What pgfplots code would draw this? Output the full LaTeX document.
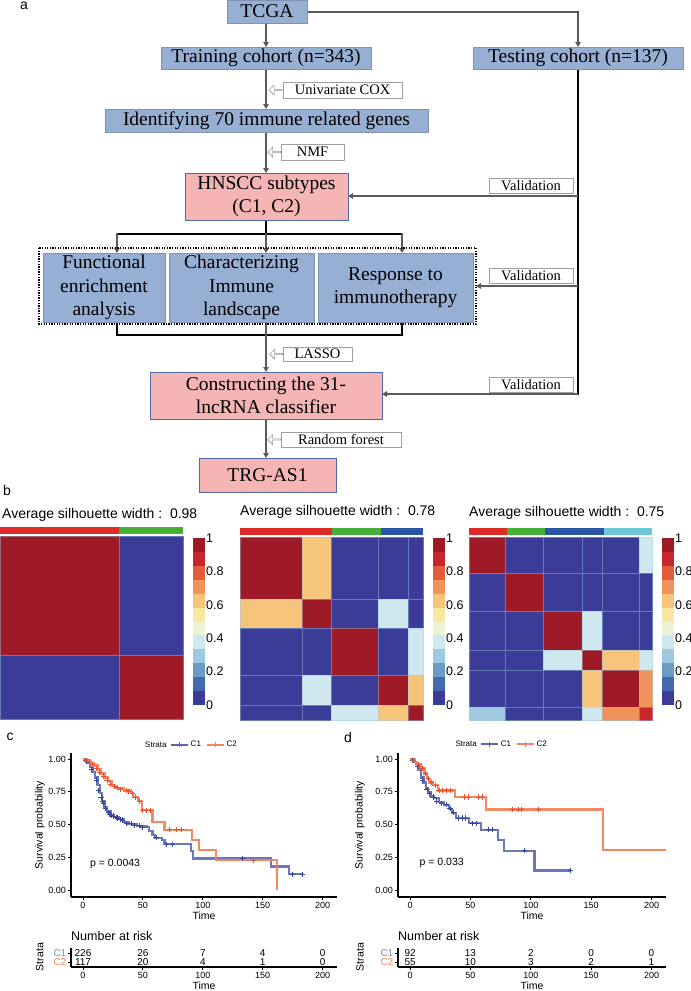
\documentclass[border=0pt]{standalone}
\usepackage{pgfplots}
\pgfplotsset{compat=1.18}
\usepackage{fontspec}
\setmainfont{Liberation Sans}
\newfontfamily\tnr{Liberation Serif}
\usetikzlibrary{arrows.meta,shapes.arrows}

\definecolor{hm1}{HTML}{3A3C97}
\definecolor{hm2}{HTML}{4569AE}
\definecolor{hm3}{HTML}{6A9CC8}
\definecolor{hm4}{HTML}{9EC9E0}
\definecolor{hm5}{HTML}{CFE8F0}
\definecolor{hm6}{HTML}{EEF3D8}
\definecolor{hm7}{HTML}{F7E7A0}
\definecolor{hm8}{HTML}{F6C47B}
\definecolor{hm9}{HTML}{F0935A}
\definecolor{hm10}{HTML}{E35B3A}
\definecolor{hm11}{HTML}{C8262B}
\definecolor{hm12}{HTML}{9E1A27}
\definecolor{annR}{HTML}{E02A26}
\definecolor{annG}{HTML}{45B035}
\definecolor{annB}{HTML}{2955A5}
\definecolor{annC}{HTML}{6CC7D6}
\definecolor{c1line}{HTML}{5B68B0}
\definecolor{c1dark}{HTML}{34479B}
\definecolor{c2line}{HTML}{F2835A}
\definecolor{c2dark}{HTML}{E5502F}
\definecolor{c1lab}{HTML}{8585CC}
\definecolor{c2lab}{HTML}{F0845A}
\definecolor{boxblue}{HTML}{97AFD2}
\definecolor{boxedge}{HTML}{7F92B5}
\definecolor{pinkf}{HTML}{F4B5B4}
\definecolor{pinkedge}{HTML}{5068B0}
\definecolor{agray}{HTML}{5A5A5A}

\newcommand{\blk}[5]{\addplot[fill=#5, draw=#5!55!hm4, line width=0.5pt] coordinates {(#1,#2) (#3,#2) (#3,#4) (#1,#4)} -- cycle;}
\newcommand{\ann}[3]{\addplot[fill=#3, draw=none] coordinates {(#1,-0.049) (#2,-0.049) (#2,-0.011) (#1,-0.011)} -- cycle;}
\newcommand{\cb}[3]{\addplot[fill=#3, draw=none] coordinates {(0,#1) (1,#1) (1,#2) (0,#2)} -- cycle;}

\pgfplotsset{
  hm/.style={scale only axis, width=183pt, height=183pt, xmin=0, xmax=1, ymin=0, ymax=1, y dir=reverse, hide axis, clip=false},
  cbar/.style={scale only axis, width=12pt, height=167pt, xmin=0, xmax=1, ymin=0, ymax=1, hide x axis, axis y line*=right, y axis line style={draw=none}, ytick={0,0.2,0.4,0.6,0.8,1}, yticklabels={0,0.2,0.4,0.6,0.8,1}, major tick length=0pt, yticklabel style={font=\fontsize{12.5}{14}\selectfont, anchor=west, inner sep=1pt}, clip=false},
  km/.style={scale only axis, height=144pt, xmin=-10, xmax=212, ymin=-0.053, ymax=1.046, clip mode=individual, axis lines=left, axis line style={-, line width=1.1pt}, xtick={0,50,100,150,200}, xticklabels={0,50,100,150,200}, ytick={0,0.25,0.5,0.75,1}, yticklabels={0.00,0.25,0.50,0.75,1.00}, tick align=outside, major tick length=3pt, tick style={black, line width=0.8pt}, tick label style={font=\fontsize{9}{10}\selectfont, inner sep=2pt}, /pgf/number format/assume math mode=true, xlabel={Time}, ylabel={Survival probability}, label style={font=\fontsize{10.5}{12}\selectfont}, xlabel style={at={(axis description cs:0.5,-0.13)}, anchor=center}, legend columns=-1, legend style={draw=none, fill=none, inner sep=0pt, font=\fontsize{8}{9}\selectfont, /tikz/every even column/.append style={column sep=3pt}}},
  risk/.style={scale only axis, height=19pt, xmin=-10, xmax=212, ymin=0.444, ymax=2.556, axis lines=left, axis line style={-, line width=1.1pt}, xtick={0,50,100,150,200}, xticklabels={0,50,100,150,200}, ytick={1,2}, yticklabels={\textcolor{c2lab}{C2},\textcolor{c1lab}{C1}}, tick align=outside, major tick length=3pt, tick style={black, line width=0.8pt}, xticklabel style={font=\fontsize{9}{10}\selectfont, inner sep=2pt}, yticklabel style={font=\fontsize{10}{10}\selectfont, inner sep=1.5pt}, xlabel={Time}, ylabel={Strata}, label style={font=\fontsize{10.5}{12}\selectfont}, xlabel style={at={(axis description cs:0.5,-1.0)}, anchor=center}, clip=false}
}

\tikzset{
  fbox/.style={draw=boxedge, fill=boxblue, line width=0.8pt, inner sep=0pt, align=center, font=\tnr\fontsize{19.5}{23.5}\selectfont},
  pbox/.style={draw=pinkedge, fill=pinkf, line width=0.8pt, inner sep=0pt, align=center, font=\tnr\fontsize{19.5}{23.5}\selectfont},
  lbox/.style={draw=gray!75, fill=white, line width=0.8pt, inner sep=0pt, font=\tnr\fontsize{14.5}{16}\selectfont},
  garr/.style={draw=agray, line width=1.3pt, -{Triangle[length=5pt,width=5.5pt]}},
  blkl/.style={draw=black, line width=1.6pt},
  harr/.style={single arrow, draw=gray!80, fill=white, line width=0.6pt, minimum height=13pt, minimum width=10pt, single arrow head extend=2pt, shape border rotate=180, inner sep=0pt}
}

\begin{document}
\begin{tikzpicture}
\path[use as bounding box] (0pt,0pt) rectangle (691pt,-991pt);
\begin{scope}[x=1pt,y=-1pt]
% ---------- panel a ----------
\node[font=\fontsize{14}{14}\selectfont] at (24,6) {a};
\draw[garr] (266,23) -- (266,47);
\draw[garr] (307,12) -- (578,12) -- (578,47);
\draw[blkl] (578,69) -- (578,394.8);
\draw[garr] (578,196) -- (348,196);
\draw[garr] (578,286) -- (476,286);
\draw[garr] (578,394) -- (382,394);
\draw[garr] (266,69) -- (266,109);
\draw[garr] (266,132) -- (266,173);
\draw[blkl] (266,220) -- (266,234);
\draw[blkl] (117,234) -- (402,234);
\draw[garr] (117,233) -- (117,253);
\draw[garr] (266,233) -- (266,253);
\draw[garr] (402,233) -- (402,253);
\draw[blkl] (117,322) -- (117,335) -- (402,335) -- (402,322);
\draw[garr] (266,322) -- (266,372);
\draw[garr] (266,419) -- (266,458);
\node[fbox, minimum width=80pt, minimum height=23pt] at (267,11.5) {TCGA};
\node[fbox, minimum width=210pt, minimum height=22pt] at (266,58) {Training cohort (n=343)};
\node[fbox, minimum width=210pt, minimum height=22pt] at (578,58) {Testing cohort (n=137)};
\node[fbox, minimum width=323pt, minimum height=23pt] at (266.5,120.5) {Identifying 70 immune related genes};
\node[pbox, minimum width=163pt, minimum height=47pt] at (266.5,196.5) {HNSCC subtypes\\(C1, C2)};
\draw[black, line width=1.5pt, dash pattern=on 1.3pt off 1.3pt] (39,248) rectangle (476,324);
\node[fbox, minimum width=122pt, minimum height=69pt] at (104,287.5) {Functional\\enrichment\\analysis};
\node[fbox, minimum width=145pt, minimum height=69pt] at (241.5,287.5) {Characterizing\\Immune\\landscape};
\node[fbox, minimum width=155pt, minimum height=69pt] at (395.5,287.5) {Response to\\immunotherapy};
\node[pbox, minimum width=232pt, minimum height=47pt] at (266,395.5) {Constructing the 31-\\lncRNA classifier};
\node[pbox, minimum width=137pt, minimum height=34pt] at (267.5,475) {TRG-AS1};
\node[lbox, minimum width=119pt, minimum height=16pt] at (342.5,90) {Univariate COX};
\node[harr] at (276,90) {};
\node[lbox, minimum width=63pt, minimum height=16pt] at (312.5,152) {NMF};
\node[harr] at (274.5,152) {};
\node[lbox, minimum width=69pt, minimum height=14pt] at (317.5,354) {LASSO};
\node[harr] at (276.5,354) {};
\node[lbox, minimum width=120pt, minimum height=15pt] at (341,439.5) {Random forest};
\node[harr] at (274.5,439.5) {};
\node[lbox, minimum width=84pt, minimum height=15pt] at (531,185.5) {Validation};
\node[lbox, minimum width=84pt, minimum height=15pt] at (531,276) {Validation};
\node[lbox, minimum width=84pt, minimum height=15pt] at (531,384.5) {Validation};
% ---------- panel labels & titles ----------
\node[font=\fontsize{14}{14}\selectfont] at (7,490) {b};
\node[font=\fontsize{14}{14}\selectfont] at (10,737) {c};
\node[font=\fontsize{14}{14}\selectfont] at (348,737) {d};
\node[anchor=west, inner sep=0pt, font=\fontsize{14}{16}\selectfont] at (2,515) {Average silhouette width :\ \ 0.98};
\node[anchor=west, inner sep=0pt, font=\fontsize{14}{16}\selectfont] at (240,512) {Average silhouette width :\ \ 0.78};
\node[anchor=west, inner sep=0pt, font=\fontsize{14}{16}\selectfont] at (469,513) {Average silhouette width :\ \ 0.75};
\end{scope}

% ---------- heatmap 1 ----------
\begin{axis}[hm, at={(0pt,-536pt)}, anchor=north west]
\ann{0}{0.652}{annR}
\ann{0.652}{1}{annG}
\blk{0}{0}{0.652}{0.652}{hm12}
\blk{0.652}{0}{1}{0.652}{hm1}
\blk{0}{0.652}{0.652}{1}{hm1}
\blk{0.652}{0.652}{1}{1}{hm12}
\end{axis}
% ---------- heatmap 2 ----------
\begin{axis}[hm, at={(240pt,-537pt)}, anchor=north west]
\ann{0}{0.503}{annR}
\ann{0.503}{0.77}{annG}
\ann{0.77}{1}{annB}
\blk{0}{0}{.338}{.338}{hm12}
\blk{.338}{0}{.496}{.338}{hm8}
\blk{.496}{0}{.757}{.338}{hm1}
\blk{.757}{0}{.921}{.338}{hm1}
\blk{.921}{0}{1}{.338}{hm1}
\blk{0}{.338}{.338}{.496}{hm8}
\blk{.338}{.338}{.496}{.496}{hm12}
\blk{.496}{.338}{.757}{.496}{hm1}
\blk{.757}{.338}{.921}{.496}{hm5}
\blk{.921}{.338}{1}{.496}{hm1}
\blk{0}{.496}{.338}{.757}{hm1}
\blk{.338}{.496}{.496}{.757}{hm1}
\blk{.496}{.496}{.757}{.757}{hm12}
\blk{.757}{.496}{.921}{.757}{hm1}
\blk{.921}{.496}{1}{.757}{hm5}
\blk{0}{.757}{.338}{.921}{hm1}
\blk{.338}{.757}{.496}{.921}{hm5}
\blk{.496}{.757}{.757}{.921}{hm1}
\blk{.757}{.757}{.921}{.921}{hm12}
\blk{.921}{.757}{1}{.921}{hm8}
\blk{0}{.921}{.338}{1}{hm1}
\blk{.338}{.921}{.496}{1}{hm1}
\blk{.496}{.921}{.757}{1}{hm5}
\blk{.757}{.921}{.921}{1}{hm8}
\blk{.921}{.921}{1}{1}{hm12}
\end{axis}
% ---------- heatmap 3 ----------
\begin{axis}[hm, at={(469pt,-537pt)}, anchor=north west]
\ann{0}{0.209}{annR}
\ann{0.209}{0.418}{annG}
\ann{0.418}{0.736}{annB}
\ann{0.736}{1}{annC}
\blk{0}{0}{.196}{.196}{hm12}
\blk{.196}{0}{.407}{.196}{hm1}
\blk{.407}{0}{.618}{.196}{hm1}
\blk{.618}{0}{.728}{.196}{hm1}
\blk{.728}{0}{.930}{.196}{hm1}
\blk{.930}{0}{1}{.196}{hm5}
\blk{0}{.196}{.196}{.407}{hm1}
\blk{.196}{.196}{.407}{.407}{hm12}
\blk{.407}{.196}{.618}{.407}{hm1}
\blk{.618}{.196}{.728}{.407}{hm1}
\blk{.728}{.196}{.930}{.407}{hm1}
\blk{.930}{.196}{1}{.407}{hm1}
\blk{0}{.407}{.196}{.618}{hm1}
\blk{.196}{.407}{.407}{.618}{hm1}
\blk{.407}{.407}{.618}{.618}{hm12}
\blk{.618}{.407}{.728}{.618}{hm5}
\blk{.728}{.407}{.930}{.618}{hm1}
\blk{.930}{.407}{1}{.618}{hm1}
\blk{0}{.618}{.196}{.728}{hm1}
\blk{.196}{.618}{.407}{.728}{hm1}
\blk{.407}{.618}{.618}{.728}{hm5}
\blk{.618}{.618}{.728}{.728}{hm12}
\blk{.728}{.618}{.930}{.728}{hm8}
\blk{.930}{.618}{1}{.728}{hm5}
\blk{0}{.728}{.196}{.930}{hm1}
\blk{.196}{.728}{.407}{.930}{hm1}
\blk{.407}{.728}{.618}{.930}{hm1}
\blk{.618}{.728}{.728}{.930}{hm8}
\blk{.728}{.728}{.930}{.930}{hm12}
\blk{.930}{.728}{1}{.930}{hm9}
\blk{0}{.930}{.196}{1}{hm4}
\blk{.196}{.930}{.407}{1}{hm1}
\blk{.407}{.930}{.618}{1}{hm1}
\blk{.618}{.930}{.728}{1}{hm5}
\blk{.728}{.930}{.930}{1}{hm9}
\blk{.930}{.930}{1}{1}{hm11}
\end{axis}
% ---------- colorbars ----------
\foreach \cx in {193,433,662}{
\begin{axis}[cbar, at={(\cx pt,-705pt)}, anchor=south west]
\cb{0}{.0833}{hm1}
\cb{.0833}{.1667}{hm2}
\cb{.1667}{.25}{hm3}
\cb{.25}{.3333}{hm4}
\cb{.3333}{.4167}{hm5}
\cb{.4167}{.5}{hm6}
\cb{.5}{.5833}{hm7}
\cb{.5833}{.6667}{hm8}
\cb{.6667}{.75}{hm9}
\cb{.75}{.8333}{hm10}
\cb{.8333}{.9167}{hm11}
\cb{.9167}{1}{hm12}
\end{axis}
}

% ---------- panel c ----------
\begin{axis}[km, width=266pt, at={(71pt,-897pt)}, anchor=south west,
  ylabel style={at={(axis description cs:-0.117,0.5)}, anchor=center},
  legend style={at={(axis description cs:0.372,1.056)}, anchor=west}]
\addlegendimage{c1line, line width=1.5pt, mark=+, mark size=2.5pt, mark options={line width=0.8pt}}
\addlegendentry{C1}
\addlegendimage{c2line, line width=1.5pt, mark=+, mark size=2.5pt, mark options={line width=0.8pt}}
\addlegendentry{C2}
\addplot[const plot, c1line, line width=2.3pt, opacity=0.9] coordinates {
(0,1) (2,0.99) (4,0.97) (6,0.94) (8,0.90) (10,0.86) (12,0.80) (14,0.74) (16,0.68) (18,0.63) (20,0.60) (23,0.57) (26,0.555) (30,0.54) (34,0.52) (38,0.505) (45,0.49) (53,0.48) (55,0.45) (58,0.42) (60,0.40) (66,0.38) (68,0.35) (90,0.30) (92,0.24) (157,0.18) (172,0.12) (184,0.12)};
\addplot[const plot, c2line, line width=2.3pt, opacity=0.95] coordinates {
(0,1) (3,0.99) (6,0.97) (9,0.95) (12,0.92) (15,0.89) (18,0.86) (21,0.83) (24,0.80) (27,0.78) (34,0.76) (40,0.74) (42,0.71) (46,0.68) (49,0.61) (58,0.52) (68,0.46) (91,0.38) (97,0.305) (111,0.23) (162,0)};
\addplot[only marks, mark=+, mark size=2.6pt, c1dark, line width=0.8pt] coordinates {
(3,0.98) (7,0.92) (11,0.84) (13,0.76) (15,0.71) (16,0.68) (17,0.66) (19,0.62) (21,0.59) (22,0.58) (24,0.57) (25,0.565) (28,0.555) (29,0.55) (31,0.54) (33,0.535) (36,0.51) (40,0.505) (43,0.49) (47,0.49) (50,0.48) (61,0.40) (70,0.35) (75,0.35) (133,0.24) (175,0.12) (183,0.12)};
\addplot[only marks, mark=+, mark size=2.6pt, c2dark, line width=0.8pt] coordinates {
(2,0.99) (5,0.98) (8,0.96) (11,0.93) (14,0.90) (17,0.87) (20,0.84) (23,0.81) (26,0.79) (29,0.78) (31,0.77) (36,0.76) (38,0.755) (41,0.74) (44,0.71) (47,0.68) (50,0.61) (53,0.61) (56,0.61) (72,0.46) (78,0.46) (82,0.46) (142,0.23)};
\node[anchor=west, font=\fontsize{10.5}{12}\selectfont] at (axis cs:3,0.2) {p = 0.0043};
\node[anchor=east, font=\fontsize{8}{9}\selectfont, inner sep=0pt] at (axis description cs:0.36,1.056) {Strata};
\end{axis}
\begin{axis}[risk, width=266pt, at={(71pt,-967pt)}, anchor=south west,
  ylabel style={at={(axis description cs:-0.117,0.526)}, anchor=center}]
\addplot[draw=none, mark=none, nodes near coords, point meta=explicit symbolic,
  every node near coord/.append style={anchor=center, inner sep=0pt, font=\fontsize{10}{10}\selectfont}]
  table[meta=lab, row sep=\\] {x y lab\\ 0 2 226\\ 50 2 26\\ 100 2 7\\ 150 2 4\\ 200 2 0\\ 0 1 117\\ 50 1 20\\ 100 1 4\\ 150 1 1\\ 200 1 0\\};
\node[anchor=west, inner sep=0pt, font=\fontsize{12.5}{14}\selectfont] at (axis description cs:0,1.63) {Number at risk};
\end{axis}

% ---------- panel d ----------
\begin{axis}[km, width=268pt, at={(398pt,-897pt)}, anchor=south west,
  ylabel style={at={(axis description cs:-0.142,0.5)}, anchor=center},
  legend style={at={(axis description cs:0.306,1.062)}, anchor=west}]
\addlegendimage{c1line, line width=1.5pt, mark=+, mark size=2.5pt, mark options={line width=0.8pt}}
\addlegendentry{C1}
\addlegendimage{c2line, line width=1.5pt, mark=+, mark size=2.5pt, mark options={line width=0.8pt}}
\addlegendentry{C2}
\addplot[const plot, c1line, line width=2.3pt, opacity=0.9] coordinates {
(0,1) (3,0.98) (5,0.96) (7,0.92) (9,0.86) (11,0.82) (13,0.78) (15,0.75) (17,0.72) (20,0.70) (24,0.67) (28,0.65) (32,0.62) (35,0.59) (38,0.55) (49,0.51) (59,0.46) (73,0.38) (78,0.30) (103,0.15) (133,0.15)};
\addplot[const plot, c2line, line width=2.3pt, opacity=0.95] coordinates {
(0,1) (4,0.98) (6,0.96) (9,0.93) (12,0.89) (14,0.85) (16,0.82) (19,0.80) (23,0.76) (37,0.71) (63,0.615) (160,0.305) (215,0.305)};
\addplot[only marks, mark=+, mark size=2.6pt, c1dark, line width=0.8pt] coordinates {
(2,0.99) (6,0.94) (10,0.84) (14,0.77) (16,0.74) (19,0.71) (22,0.68) (26,0.66) (30,0.65) (33,0.62) (36,0.59) (40,0.55) (43,0.55) (46,0.55) (52,0.51) (55,0.51) (65,0.46) (68,0.46) (95,0.30) (133,0.15)};
\addplot[only marks, mark=+, mark size=2.6pt, c2dark, line width=0.8pt] coordinates {
(3,0.99) (7,0.96) (10,0.93) (13,0.89) (15,0.85) (18,0.82) (21,0.80) (24,0.76) (27,0.76) (30,0.76) (33,0.76) (45,0.71) (48,0.71) (57,0.71) (60,0.71) (85,0.615) (90,0.615) (92,0.615) (106,0.615)};
\node[anchor=west, font=\fontsize{10.5}{12}\selectfont] at (axis cs:5,0.205) {p = 0.033};
\node[anchor=east, font=\fontsize{8}{9}\selectfont, inner sep=0pt] at (axis description cs:0.295,1.062) {Strata};
\end{axis}
\begin{axis}[risk, width=268pt, at={(398pt,-967pt)}, anchor=south west,
  ylabel style={at={(axis description cs:-0.142,0.526)}, anchor=center}]
\addplot[draw=none, mark=none, nodes near coords, point meta=explicit symbolic,
  every node near coord/.append style={anchor=center, inner sep=0pt, font=\fontsize{10}{10}\selectfont}]
  table[meta=lab, row sep=\\] {x y lab\\ 0 2 92\\ 50 2 13\\ 100 2 2\\ 150 2 0\\ 200 2 0\\ 0 1 55\\ 50 1 10\\ 100 1 3\\ 150 1 2\\ 200 1 1\\};
\node[anchor=west, inner sep=0pt, font=\fontsize{12.5}{14}\selectfont] at (axis description cs:0,1.63) {Number at risk};
\end{axis}
\end{tikzpicture}
\end{document}
